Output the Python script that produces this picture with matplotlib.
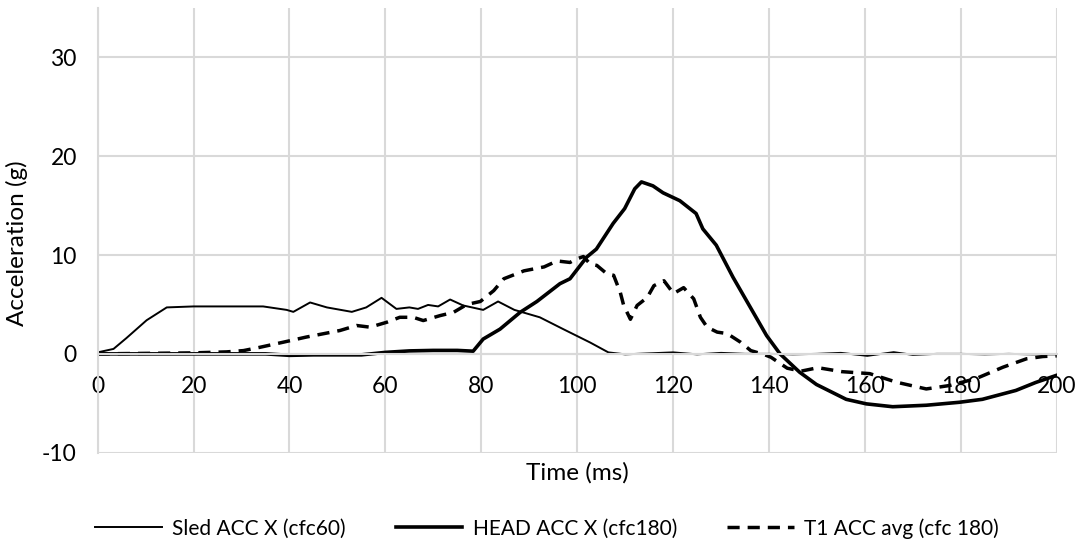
import matplotlib
matplotlib.use("Agg")
import matplotlib.pyplot as plt

plt.rcParams['font.family'] = ['Lato', 'DejaVu Sans']
plt.rcParams['axes.unicode_minus'] = False

# Sled acceleration, X (CFC 60)
sled_t = [0, 3.3, 6, 10.2, 14.4, 20, 30, 34.5, 39.4, 40.8, 44.3, 47.8, 53, 56, 59.2,
          62.3, 65, 66.8, 68.9, 71, 73.5, 76.2, 80.4, 83.5, 86.9, 92.2, 97.1, 102.7,
          106.5, 110, 115, 120, 125, 130, 135, 140, 145, 150, 155, 160.5, 166, 170,
          175, 180, 185, 190, 195, 200]
sled_a = [0.15, 0.5, 1.6, 3.4, 4.7, 4.8, 4.8, 4.8, 4.45, 4.25, 5.2, 4.7, 4.25, 4.7, 5.67,
          4.55, 4.7, 4.55, 4.95, 4.8, 5.5, 4.9, 4.45, 5.3, 4.45, 3.7, 2.5, 1.15,
          0.15, -0.05, 0.05, 0.15, -0.05, 0.1, 0.0, 0.0, -0.05, 0.0, 0.1, -0.2, 0.17, -0.1,
          0.0, 0.0, -0.05, 0.0, -0.05, -0.05]

# Head acceleration, X (CFC 180)
head_t = [0, 10, 20, 30, 35, 40, 45, 50, 55, 60, 65, 70, 75, 78.3, 80.4, 83.9, 88.1,
          91.6, 96.4, 98.5, 102, 104, 107.5, 109.9, 112, 113.4, 115.8, 117.9, 121.4,
          124.8, 126.2, 129, 132.5, 136, 139.5, 142.3, 146.4, 149.9, 156.1, 160.3,
          165.8, 172.8, 179.7, 184.5, 191.5, 195.6, 199.8]
head_a = [0.0, 0.0, 0.0, 0.0, 0.0, -0.15, -0.1, -0.1, -0.1, 0.15, 0.3, 0.35, 0.35, 0.27,
          1.5, 2.5, 4.2, 5.3, 7.1, 7.6, 9.8, 10.6, 13.2, 14.7, 16.7, 17.4, 17.0, 16.3,
          15.5, 14.2, 12.65, 11.0, 7.75, 4.8, 1.85, 0.0, -1.86, -3.1, -4.6, -5.06,
          -5.35, -5.2, -4.9, -4.6, -3.7, -2.9, -2.2]

# T1 acceleration, average (CFC 180)
t1_t = [0, 10, 20, 26.9, 30.4, 33.8, 38.7, 43.5, 50.5, 54, 56.8, 60.3, 63, 65.8, 67.9,
        71.4, 74.2, 77, 79.8, 82.6, 84.7, 88.9, 93.1, 95.8, 98.5, 99.6, 101.3, 102.7,
        104.1, 106.2, 107.6, 109, 109.7, 111.1, 112.5, 114.6, 116, 118.1, 120.1, 122.2,
        124.3, 125.7, 127.1, 129.2, 131.3, 134.1, 136.2, 139, 140.4, 143.8, 146.7,
        150.2, 155.2, 161, 166.6, 172.8, 177.7, 183.2, 188.8, 193.7, 197.1, 200]
t1_a = [0.0, 0.05, 0.1, 0.2, 0.33, 0.66, 1.18, 1.7, 2.36, 2.87, 2.7, 3.2, 3.7, 3.7, 3.37,
        3.87, 4.2, 5.0, 5.3, 6.4, 7.6, 8.4, 8.8, 9.4, 9.25, 9.55, 9.85, 9.1,
        8.95, 8.1, 7.95, 6.2, 4.9, 3.5, 4.9, 5.7, 6.9, 7.4, 6.1, 6.7,
        5.57, 3.7, 2.7, 2.2, 2.05, 1.17, 0.33, -0.07, -0.34, -1.45, -1.75,
        -1.4, -1.8, -2.0, -2.87, -3.55, -3.2, -2.5, -1.35, -0.5, -0.27, -0.2]

x_ticks = [0, 20, 40, 60, 80, 100, 120, 140, 160, 180, 200]
y_ticks = [-10, 0, 10, 20, 30]

fig = plt.figure(figsize=(10.83, 5.59), dpi=100)
ax = fig.add_axes([0.0902, 0.1902, 0.8855, 0.7955])

grid_c = '#d9d9d9'
ax.set_xlim(0, 200)
ax.set_ylim(-10, 35)
ax.set_xticks(x_ticks)
ax.set_yticks(y_ticks)
ax.grid(True, color=grid_c, linewidth=1.5)
ax.set_axisbelow(True)

for s in ['top', 'right']:
    ax.spines[s].set_visible(False)
ax.spines['left'].set_color(grid_c)
ax.spines['left'].set_linewidth(1.5)
ax.spines['bottom'].set_position(('data', 0))
ax.spines['bottom'].set_color(grid_c)
ax.spines['bottom'].set_linewidth(1.5)
ax.tick_params(length=0, labelsize=16.5, colors='black')
ax.tick_params(axis='y', pad=15)
ax.tick_params(axis='x', pad=16)

ax.plot(sled_t, sled_a, color='black', linewidth=1.4, label='Sled ACC X (cfc60)')
ax.plot(head_t, head_a, color='black', linewidth=2.6, label='HEAD ACC X (cfc180)')
ax.plot(t1_t, t1_a, color='black', linewidth=2.5, linestyle=(0, (3.5, 2.3)),
        label='T1 ACC avg (cfc 180)')

ax.set_xlabel('Time (ms)', fontsize=17.5)
ax.set_ylabel('Acceleration (g)', fontsize=17.5)
ax.xaxis.set_label_coords(0.5, -0.022)
ax.yaxis.set_label_coords(-0.073, 0.47)

fig.legend(loc='center', bbox_to_anchor=(0.505, 0.055), ncol=3, frameon=False,
           fontsize=15, handlelength=3.2, handletextpad=0.5, columnspacing=2.4)

fig.savefig('out.png', dpi=100)
